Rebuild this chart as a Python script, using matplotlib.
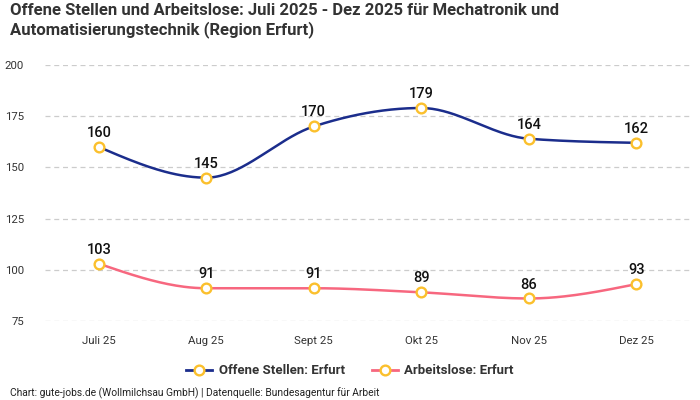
import numpy as np
import matplotlib
matplotlib.use("Agg")
import matplotlib.pyplot as plt
from matplotlib.lines import Line2D

plt.rcParams['font.family'] = ['Roboto', 'DejaVu Sans']

months = ["Juli 25", "Aug 25", "Sept 25", "Okt 25", "Nov 25", "Dez 25"]
offene = [160, 145, 170, 179, 164, 162]
arbeitslose = [103, 91, 91, 89, 86, 93]
series_names = ["Offene Stellen: Erfurt", "Arbeitslose: Erfurt"]
yticks = [75, 100, 125, 150, 175, 200]

BLUE = "#1b2d8c"
PINK = "#f7677f"
MARK = "#fbc02d"


def monotone(x, y, n=40):
    x = np.asarray(x, float); y = np.asarray(y, float)
    h = np.diff(x); s = np.diff(y) / h
    m = np.zeros_like(y)
    for i in range(1, len(y) - 1):
        p = (s[i - 1] * h[i] + s[i] * h[i - 1]) / (h[i - 1] + h[i])
        m[i] = (np.sign(s[i - 1]) + np.sign(s[i])) * min(abs(s[i - 1]), abs(s[i]), 0.5 * abs(p))
    m[0] = (3 * s[0] - m[1]) / 2
    m[-1] = (3 * s[-1] - m[-2]) / 2
    xs, ys = [], []
    for i in range(len(h)):
        t = np.linspace(0, 1, n)
        h00 = 2 * t**3 - 3 * t**2 + 1
        h10 = t**3 - 2 * t**2 + t
        h01 = -2 * t**3 + 3 * t**2
        h11 = t**3 - t**2
        xs.append(x[i] + t * h[i])
        ys.append(h00 * y[i] + h10 * h[i] * m[i] + h01 * y[i + 1] + h11 * h[i] * m[i + 1])
    return np.concatenate(xs), np.concatenate(ys)


fig = plt.figure(figsize=(7, 4), dpi=100)
ax = fig.add_axes([45 / 700, (400 - 321) / 400, 645 / 700, 256 / 400])
x = np.arange(len(months))

for vals, col in [(offene, BLUE), (arbeitslose, PINK)]:
    cx, cy = monotone(x, vals)
    ax.plot(cx, cy, color=col, lw=1.8, zorder=3, solid_capstyle='round')
    ax.plot(x, vals, ls='none', marker='o', ms=7, mfc='white', mec=MARK, mew=1.7, zorder=4)
    for xi, v in zip(x, vals):
        ax.annotate(str(v), (xi, v), xytext=(0, 5), textcoords='offset points',
                    ha='center', va='bottom', fontsize=10.5, fontweight='medium',
                    color='#111111', zorder=5)

ax.set_xlim(-0.5, len(months) - 0.5)
ax.set_ylim(75, 200)
ax.set_yticks(yticks)
ax.set_xticks(x)
ax.set_xticklabels(months)
ax.tick_params(axis='both', length=0, labelsize=8.2, labelcolor='#333333')
ax.tick_params(axis='x', pad=11)
ax.tick_params(axis='y', pad=15)
for lab in ax.get_yticklabels():
    lab.set_horizontalalignment('right')
ax.grid(axis='y', color='#cccccc', ls=(0, (4, 3)), lw=0.9)
ax.set_axisbelow(True)
for sp in ax.spines.values():
    sp.set_visible(False)

handles = [Line2D([0], [0], color=BLUE, lw=2, marker='o', ms=7, mfc='white', mec=MARK, mew=1.7),
           Line2D([0], [0], color=PINK, lw=2, marker='o', ms=7, mfc='white', mec=MARK, mew=1.7)]
fig.legend(handles, series_names, loc='center', bbox_to_anchor=(0.5, 1 - 371 / 400), ncol=2,
           frameon=False, prop={'weight': 'bold', 'size': 9.5}, labelcolor='#333333',
           handlelength=2.0, columnspacing=2.0, handletextpad=0.5)

fig.text(10 / 700, 1 - 3 / 400, "Offene Stellen und Arbeitslose: Juli 2025 - Dez 2025 für Mechatronik und\nAutomatisierungstechnik (Region Erfurt)",
         ha='left', va='top', fontsize=12, fontweight='bold', color='#333333', linespacing=1.2)
fig.text(10 / 700, 1 - 393 / 400, "Chart: gute-jobs.de (Wollmilchsau GmbH) | Datenquelle: Bundesagentur für Arbeit",
         ha='left', va='center', fontsize=7.4, color='#222222')

fig.savefig("out.png", dpi=100)
